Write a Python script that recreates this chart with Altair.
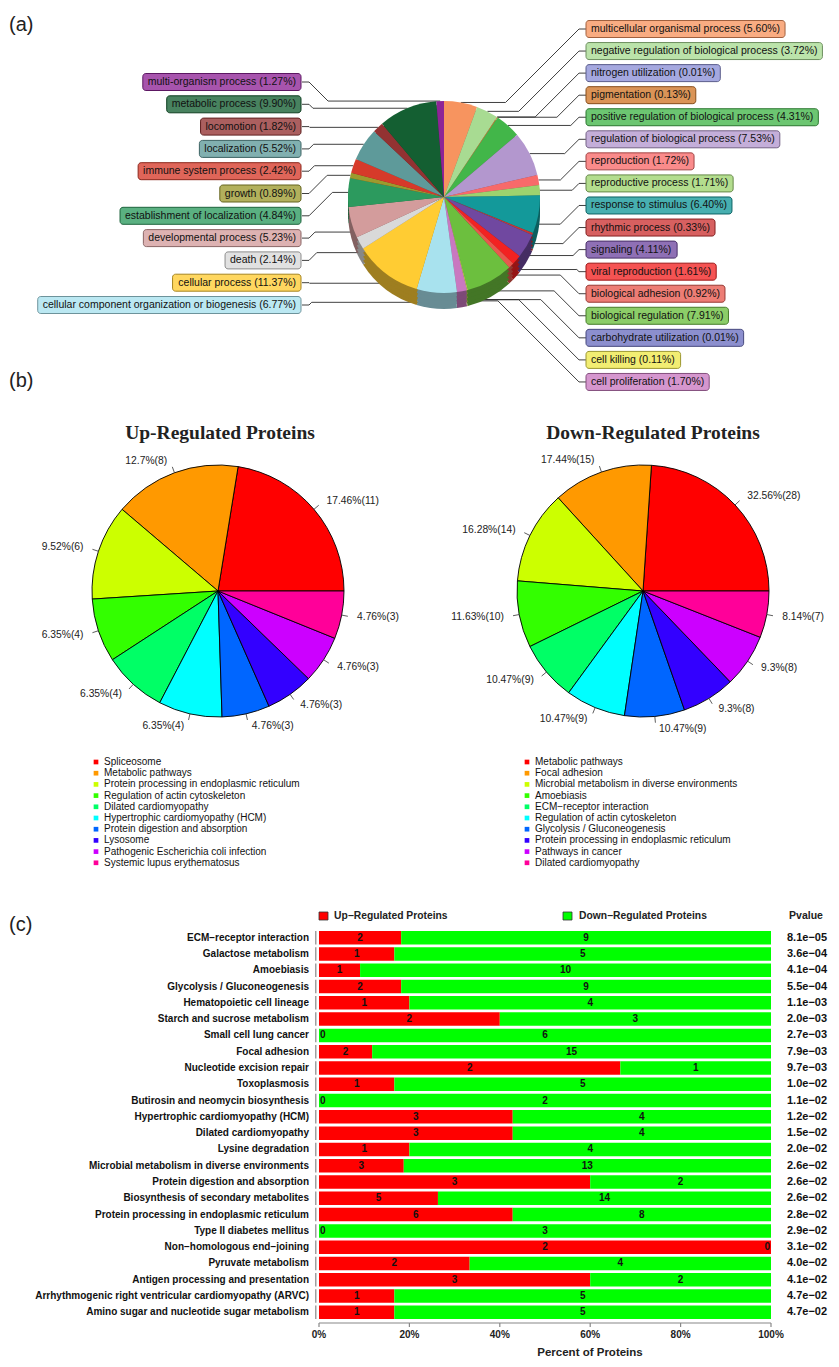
import math
import altair as alt
import pandas as pd

# ---------------- (a) GO categories (clockwise from 12 o'clock) ----------------
go_terms = [
    "multicellular organismal process", "negative regulation of biological process",
    "nitrogen utilization", "pigmentation", "positive regulation of biological process",
    "regulation of biological process", "reproduction", "reproductive process",
    "response to stimulus", "rhythmic process", "signaling", "viral reproduction",
    "biological adhesion", "biological regulation", "carbohydrate utilization",
    "cell killing", "cell proliferation", "cellular component organization or biogenesis",
    "cellular process", "death", "developmental process", "establishment of localization",
    "growth", "immune system process", "localization", "locomotion",
    "metabolic process", "multi-organism process",
]
go_pct = [5.60, 3.72, 0.01, 0.13, 4.31, 7.53, 1.72, 1.71, 6.40, 0.33, 4.11, 1.61,
          0.92, 7.91, 0.01, 0.11, 1.70, 6.77, 11.37, 2.14, 5.23, 4.84, 0.89, 2.42,
          5.52, 1.82, 9.90, 1.27]
go_colors = ["#F7945F", "#A8DB92", "#8B8FD6", "#D07628", "#42B649", "#B397CE",
             "#F86A6A", "#9DD36E", "#13999A", "#CC3333", "#7048A0", "#F22222",
             "#E8584E", "#6CBF3E", "#6B6FC0", "#EEE84A", "#C978C0", "#A8E2EE",
             "#FFCC33", "#D9D9D9", "#D39C9C", "#2C9A5E", "#9C9A2E", "#D63A2A",
             "#5E9A9A", "#933232", "#145F32", "#8E2496"]

# ---------------- (b) KEGG pies ----------------
up_pathways = ["Spliceosome", "Metabolic pathways", "Protein processing in endoplasmic reticulum",
               "Regulation of actin cytoskeleton", "Dilated cardiomyopathy",
               "Hypertrophic cardiomyopathy (HCM)", "Protein digestion and absorption",
               "Lysosome", "Pathogenic Escherichia coli infection", "Systemic lupus erythematosus"]
up_counts = [11, 8, 6, 4, 4, 4, 3, 3, 3, 3]
up_labels = ["17.46%(11)", "12.7%(8)", "9.52%(6)", "6.35%(4)", "6.35%(4)", "6.35%(4)",
             "4.76%(3)", "4.76%(3)", "4.76%(3)", "4.76%(3)"]
down_pathways = ["Metabolic pathways", "Focal adhesion", "Microbial metabolism in diverse environments",
                 "Amoebiasis", "ECM\u2212receptor interaction", "Regulation of actin cytoskeleton",
                 "Glycolysis / Gluconeogenesis", "Protein processing in endoplasmic reticulum",
                 "Pathways in cancer", "Dilated cardiomyopathy"]
down_counts = [28, 15, 14, 10, 9, 9, 9, 8, 8, 7]
down_labels = ["32.56%(28)", "17.44%(15)", "16.28%(14)", "11.63%(10)", "10.47%(9)",
               "10.47%(9)", "10.47%(9)", "9.3%(8)", "9.3%(8)", "8.14%(7)"]
rainbow10 = ["#FF0000", "#FF9900", "#CCFF00", "#33FF00", "#00FF66",
             "#00FFFF", "#0066FF", "#3300FF", "#CC00FF", "#FF0099"]

# ---------------- (c) enrichment bars ----------------
c_pathways = ["ECM\u2212receptor interaction", "Galactose metabolism", "Amoebiasis",
              "Glycolysis / Gluconeogenesis", "Hematopoietic cell lineage",
              "Starch and sucrose metabolism", "Small cell lung cancer", "Focal adhesion",
              "Nucleotide excision repair", "Toxoplasmosis", "Butirosin and neomycin biosynthesis",
              "Hypertrophic cardiomyopathy (HCM)", "Dilated cardiomyopathy", "Lysine degradation",
              "Microbial metabolism in diverse environments", "Protein digestion and absorption",
              "Biosynthesis of secondary metabolites", "Protein processing in endoplasmic reticulum",
              "Type II diabetes mellitus", "Non\u2212homologous end\u2212joining", "Pyruvate metabolism",
              "Antigen processing and presentation",
              "Arrhythmogenic right ventricular cardiomyopathy (ARVC)",
              "Amino sugar and nucleotide sugar metabolism"]
c_up = [2, 1, 1, 2, 1, 2, 0, 2, 2, 1, 0, 3, 3, 1, 3, 3, 5, 6, 0, 2, 2, 3, 1, 1]
c_down = [9, 5, 10, 9, 4, 3, 6, 15, 1, 5, 2, 4, 4, 4, 13, 2, 14, 8, 3, 0, 4, 2, 5, 5]
c_pvalue = ["8.1e\u221205", "3.6e\u221204", "4.1e\u221204", "5.5e\u221204", "1.1e\u221203",
            "2.0e\u221203", "2.7e\u221203", "7.9e\u221203", "9.7e\u221203", "1.0e\u221202",
            "1.1e\u221202", "1.2e\u221202", "1.5e\u221202", "2.0e\u221202", "2.6e\u221202",
            "2.6e\u221202", "2.6e\u221202", "2.8e\u221202", "2.9e\u221202", "3.1e\u221202",
            "4.0e\u221202", "4.1e\u221202", "4.7e\u221202", "4.7e\u221202"]
c_ticks = [0, 0.2, 0.4, 0.6, 0.8, 1.0]
c_tick_labels = ["0%", "20%", "40%", "60%", "80%", "100%"]

FONT = "Liberation Sans"

# ---------------- helpers ----------------
def mix(c1, c2, t):
    a = [int(c1.lstrip("#")[i:i + 2], 16) for i in (0, 2, 4)]
    b = [int(c2.lstrip("#")[i:i + 2], 16) for i in (0, 2, 4)]
    return "#%02X%02X%02X" % tuple(round(a[k] * (1 - t) + b[k] * t) for k in range(3))

AW = {" ": 278, "(": 333, ")": 333, ".": 278, "%": 889, "-": 333, "/": 278,
      "a": 556, "b": 556, "c": 500, "d": 556, "e": 556, "f": 278, "g": 556, "h": 556,
      "i": 222, "j": 222, "k": 500, "l": 222, "m": 833, "n": 556, "o": 556, "p": 556,
      "q": 556, "r": 333, "s": 500, "t": 278, "u": 556, "v": 500, "w": 722, "x": 500,
      "y": 500, "z": 500}

def text_w(s, fs):
    return sum(AW.get(ch, 556) for ch in s) * fs / 1000.0

# pixel-like scales for the free-form parts (reference-image coordinates)
XS = alt.Scale(domain=[8, 831], range=[0, 823], nice=False, zero=False)
YS = alt.Scale(domain=[8, 1359], range=[0, 1351], nice=False, zero=False)

def PX(f):
    return alt.X(f, type="quantitative", scale=XS, axis=None)

def PY(f):
    return alt.Y(f, type="quantitative", scale=YS, axis=None)

pix_layers = []

# ================= (a) =================
A_CX, A_CY, A_R, A_DEPTH = 444, 197, 96, 16
cum = 0.0
rows = []
for t, p, c in zip(go_terms, go_pct, go_colors):
    a0 = cum / 100 * 2 * math.pi
    cum += p
    a1 = cum / 100 * 2 * math.pi
    rows.append(dict(term=t, pct=p, color=c, a0=a0, a1=a1, mid=(a0 + a1) / 2))

side_rows = []
for off in (A_DEPTH, 12, 8, 4):
    for r in rows:
        side_rows.append(dict(a0=r["a0"], a1=r["a1"], fill=mix(r["color"], "#000000", 0.38),
                              px=A_CX, py=A_CY + off))
top_rows = [dict(a0=r["a0"], a1=r["a1"], fill=r["color"], px=A_CX, py=A_CY) for r in rows]

FS_A = 10.5
line_rows, box_rows = [], []
for idx, r in enumerate(rows):
    label = "%s (%.2f%%)" % (r["term"], r["pct"])
    w = text_w(label, FS_A) + 10
    m = r["mid"]
    xa = A_CX + A_R * math.sin(m)
    ya = A_CY - A_R * math.cos(m)
    if math.cos(m) < 0:
        ya += A_DEPTH * 0.6
    if idx <= 16:  # right column
        yl = 29 + idx * 22.06
        x0 = 586
        x1 = x0 - 7
        d = abs(ya - yl)
        x2 = max(xa, x1 - d)
        bx0, bx1, side = x0, x0 + w, "R"
        tx = x0 + 5
    else:  # left column
        j = 27 - idx
        yl = 82 + j * 22.3
        x0 = 302
        x1 = x0 + 7
        d = abs(ya - yl)
        x2 = min(xa, x1 + d)
        bx0, bx1, side = 301 - w, 301, "L"
        tx = 301 - 5
    for k, (px, py) in enumerate([(x0, yl), (x1, yl), (x2, ya), (xa, ya)]):
        line_rows.append(dict(term=r["term"], k=k, px=px, py=py))
    box_rows.append(dict(label=label, bx0=bx0, bx1=bx1, by0=yl - 8.5, by1=yl + 8.5,
                         fill=mix(r["color"], "#FFFFFF", 0.22),
                         stroke=mix(r["color"], "#000000", 0.35),
                         tx=tx, ty=yl, side=side))

line_df = pd.DataFrame(line_rows)
box_df = pd.DataFrame(box_rows)

pix_layers.append(alt.Chart(line_df).mark_line(color="#2a2a2a", strokeWidth=0.9).encode(
    x=PX("px"), y=PY("py"), detail="term:N", order="k:Q"))
pix_layers.append(alt.Chart(pd.DataFrame(side_rows)).mark_arc(outerRadius=A_R).encode(
    theta=alt.Theta("a0:Q", scale=None), theta2="a1:Q",
    fill=alt.Fill("fill:N", scale=None), x=PX("px"), y=PY("py")))
pix_layers.append(alt.Chart(pd.DataFrame(top_rows)).mark_arc(outerRadius=A_R).encode(
    theta=alt.Theta("a0:Q", scale=None), theta2="a1:Q",
    fill=alt.Fill("fill:N", scale=None), x=PX("px"), y=PY("py")))
pix_layers.append(alt.Chart(box_df).mark_rect(cornerRadius=3, strokeWidth=1).encode(
    x=PX("bx0"), x2="bx1", y=PY("by0"), y2="by1",
    fill=alt.Fill("fill:N", scale=None), stroke=alt.Stroke("stroke:N", scale=None)))
for side, al in (("L", "right"), ("R", "left")):
    pix_layers.append(alt.Chart(box_df[box_df.side == side]).mark_text(
        align=al, baseline="middle", font=FONT, fontSize=FS_A, color="#111111").encode(
        x=PX("tx"), y=PY("ty"), text="label:N"))

# ================= (b) =================
B_R = 126
B_CY = 591
pie_b_rows, tick_rows, lab_rows, leg_rows = [], [], [], []
for names, counts, labels, cx, legx in ((up_pathways, up_counts, up_labels, 218, 96),
                                        (down_pathways, down_counts, down_labels, 643, 527)):
    T = float(sum(counts))
    cum = 0.0
    for i, (nm, cnt, lb) in enumerate(zip(names, counts, labels)):
        s = math.pi / 2 - 2 * math.pi * cum / T
        cum += cnt
        e = math.pi / 2 - 2 * math.pi * cum / T
        m = (s + e) / 2
        pie_b_rows.append(dict(a0=min(s, e), a1=max(s, e), fill=rainbow10[i], px=cx, py=B_CY))
        sx, sy = math.sin(m), -math.cos(m)
        tick_rows.append(dict(x0=cx + B_R * sx, y0=B_CY + B_R * sy,
                              x1=cx + 1.05 * B_R * sx, y1=B_CY + 1.05 * B_R * sy))
        lab_rows.append(dict(txt=lb, lx=cx + 1.1 * B_R * sx + (3 if sx >= 0 else -3),
                             ly=B_CY + 1.1 * B_R * sy, side="L" if sx < 0 else "R"))
        leg_rows.append(dict(name=nm, col=rainbow10[i], sx=legx, tx=legx + 8, ly=762 + 11.2 * i))

lab_df = pd.DataFrame(lab_rows)
leg_df = pd.DataFrame(leg_rows)
pix_layers.append(alt.Chart(pd.DataFrame(pie_b_rows)).mark_arc(
    outerRadius=B_R, stroke="#000000", strokeWidth=0.9).encode(
    theta=alt.Theta("a0:Q", scale=None), theta2="a1:Q",
    fill=alt.Fill("fill:N", scale=None), x=PX("px"), y=PY("py")))
pix_layers.append(alt.Chart(pd.DataFrame(tick_rows)).mark_rule(color="#333333", strokeWidth=0.8).encode(
    x=PX("x0"), y=PY("y0"), x2="x1", y2="y1"))
for side, al in (("L", "right"), ("R", "left")):
    pix_layers.append(alt.Chart(lab_df[lab_df.side == side]).mark_text(
        align=al, baseline="middle", font=FONT, fontSize=10.3, color="#222222").encode(
        x=PX("lx"), y=PY("ly"), text="txt:N"))
pix_layers.append(alt.Chart(leg_df).mark_square(size=22, opacity=1).encode(
    x=PX("sx"), y=PY("ly"), color=alt.Color("col:N", scale=None)))
pix_layers.append(alt.Chart(leg_df).mark_text(
    align="left", baseline="middle", font=FONT, fontSize=10, color="#111111").encode(
    x=PX("tx"), y=PY("ly"), text="name:N"))

titles_df = pd.DataFrame(dict(txt=["Up-Regulated Proteins", "Down-Regulated Proteins"],
                              px=[220, 653], py=[433, 433]))
pix_layers.append(alt.Chart(titles_df).mark_text(
    align="center", baseline="middle", font="Liberation Serif", fontWeight="bold",
    fontSize=19.5, color="#222222").encode(x=PX("px"), y=PY("py"), text="txt:N"))

# panel letters
letters_df = pd.DataFrame(dict(txt=["(a)", "(b)", "(c)"], px=[9, 9, 9], py=[25, 381, 925]))
pix_layers.append(alt.Chart(letters_df).mark_text(
    align="left", baseline="middle", font=FONT, fontSize=20, color="#222222").encode(
    x=PX("px"), y=PY("py"), text="txt:N"))

# (c) legend, header and axis title
cleg_box = pd.DataFrame(dict(x0=[319, 563], x1=[328, 572], y0=[912, 912], y1=[920, 920],
                             fill=["#FF0000", "#00FF00"]))
pix_layers.append(alt.Chart(cleg_box).mark_rect(stroke="#333333", strokeWidth=0.8).encode(
    x=PX("x0"), x2="x1", y=PY("y0"), y2="y1", fill=alt.Fill("fill:N", scale=None)))
cleg_txt = pd.DataFrame(dict(txt=["Up\u2212Regulated Proteins", "Down\u2212Regulated Proteins"],
                             px=[334, 579], py=[916, 916]))
pix_layers.append(alt.Chart(cleg_txt).mark_text(
    align="left", baseline="middle", font=FONT, fontWeight="bold", fontSize=10.3,
    color="#222222").encode(x=PX("px"), y=PY("py"), text="txt:N"))
chead = pd.DataFrame(dict(txt=["Pvalue", "Percent of Proteins"], px=[806, 590], py=[916, 1353]))
pix_layers.append(alt.Chart(chead.iloc[[0]]).mark_text(
    align="center", baseline="middle", font=FONT, fontWeight="bold", fontSize=10.5,
    color="#222222").encode(x=PX("px"), y=PY("py"), text="txt:N"))
pix_layers.append(alt.Chart(chead.iloc[[1]]).mark_text(
    align="center", baseline="middle", font=FONT, fontWeight="bold", fontSize=11.5,
    color="#222222").encode(x=PX("px"), y=PY("py"), text="txt:N"))

pix = alt.layer(*pix_layers)

# ================= (c) bars =================
XB = alt.Scale(domain=[0, 1], range=[311, 763], nice=False, zero=False)
YB = alt.Scale(domain=c_pathways, range=[921.5, 1312.5], paddingInner=0.17, paddingOuter=0.085)

def BX(f):
    return alt.X(f, type="quantitative", scale=XB, axis=None)

BY = alt.Y("pathway:N", scale=YB, axis=None)

seg_rows, cnt_mid, cnt_l, cnt_r, pv_rows = [], [], [], [], []
for p, u, d, pv in zip(c_pathways, c_up, c_down, c_pvalue):
    f = u / float(u + d)
    seg_rows.append(dict(pathway=p, s=0.0, e=f, fill="#FF0000"))
    seg_rows.append(dict(pathway=p, s=f, e=1.0, fill="#00FF00"))
    if u > 0:
        cnt_mid.append(dict(pathway=p, lx=f / 2, txt=str(u)))
    else:
        cnt_l.append(dict(pathway=p, lx=0.0, txt="0"))
    if d > 0:
        cnt_mid.append(dict(pathway=p, lx=(1 + f) / 2, txt=str(d)))
    else:
        cnt_r.append(dict(pathway=p, lx=1.0, txt="0"))
    pv_rows.append(dict(pathway=p, pv=pv))

bar_layers = []
bar_layers.append(alt.Chart(pd.DataFrame(seg_rows)).mark_bar().encode(
    x=BX("s"), x2="e", y=BY, color=alt.Color("fill:N", scale=None)))
txt_style = dict(baseline="middle", font=FONT, fontWeight="bold", fontSize=10, color="#111111")
bar_layers.append(alt.Chart(pd.DataFrame(cnt_mid)).mark_text(align="center", **txt_style).encode(
    x=BX("lx"), y=BY, text="txt:N"))
bar_layers.append(alt.Chart(pd.DataFrame(cnt_l)).mark_text(align="left", dx=1, **txt_style).encode(
    x=BX("lx"), y=BY, text="txt:N"))
bar_layers.append(alt.Chart(pd.DataFrame(cnt_r)).mark_text(align="right", dx=-1, **txt_style).encode(
    x=BX("lx"), y=BY, text="txt:N"))
pv_df = pd.DataFrame(pv_rows)
bar_layers.append(alt.Chart(pv_df).mark_text(
    align="right", baseline="middle", font=FONT, fontWeight="bold", fontSize=10,
    color="#111111").encode(x=alt.value(301), y=BY, text="pathway:N"))
bar_layers.append(alt.Chart(pv_df).mark_text(
    align="center", baseline="middle", font=FONT, fontWeight="bold", fontSize=11,
    color="#111111").encode(x=alt.value(799), y=BY, text="pv:N"))
bar_layers.append(alt.Chart(pv_df).mark_rect(color="#888888").encode(
    x=alt.value(307.2), x2=alt.value(308.4), y=BY))
tick_df = pd.DataFrame(dict(v=c_ticks, lab=c_tick_labels))
bar_layers.append(alt.Chart(pd.DataFrame(dict(a=[0.0], b=[1.0]))).mark_rule(
    color="#888888", strokeWidth=1.2).encode(x=BX("a"), x2="b", y=alt.value(1315)))
bar_layers.append(alt.Chart(tick_df).mark_rule(color="#888888", strokeWidth=1.2).encode(
    x=BX("v"), y=alt.value(1315), y2=alt.value(1319)))
bar_layers.append(alt.Chart(tick_df).mark_text(
    align="center", baseline="middle", font=FONT, fontWeight="bold", fontSize=10,
    color="#222222").encode(x=BX("v"), y=alt.value(1327), text="lab:N"))

bars = alt.layer(*bar_layers)

chart = alt.layer(pix, bars).resolve_scale(x="independent", y="independent").properties(
    width=823, height=1351, padding=0, autosize=alt.AutoSizeParams(type="none"),
    background="white").configure_view(stroke=None)

chart.save("out.html", embed_options={"renderer": "svg", "actions": False})
